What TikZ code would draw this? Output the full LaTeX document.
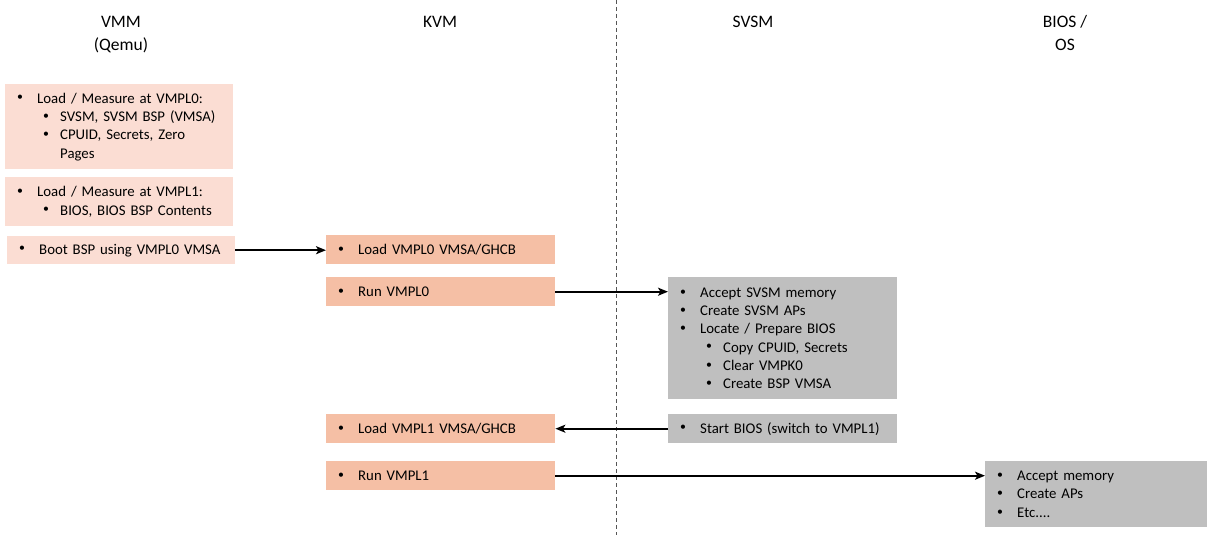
\documentclass[tikz,border=0pt]{standalone}
\usepackage{fontspec}
\setmainfont{Carlito}
\usetikzlibrary{arrows.meta}

\definecolor{vmmfill}{HTML}{FBDDD3}
\definecolor{kvmfill}{HTML}{F5BFA5}
\definecolor{grayfill}{HTML}{BFBFBF}
\definecolor{sepline}{HTML}{555555}

% bullet items: first and second level
\newcommand\bul{\raisebox{0.3ex}{\scalebox{0.8}{•}}}
\newcommand\itm[1]{\hspace*{12pt}\makebox[20pt][l]{\bul}#1}
\newcommand\subitm[1]{\hspace*{38pt}\makebox[17pt][l]{\bul}#1}
\newcommand\cont[1]{\hspace*{55pt}#1}

\tikzset{
  hdr/.style={anchor=base, inner sep=0pt, font=\fontsize{17.5}{21}\selectfont},
  stepbox/.style={rectangle, anchor=north west, inner xsep=0pt, inner ysep=0pt,
    align=left, font=\fontsize{14.8}{18.3}\selectfont},
  vmmbox/.style={stepbox, fill=vmmfill},
  kvmbox/.style={stepbox, fill=kvmfill},
  svsmbox/.style={stepbox, fill=grayfill},
  flow/.style={line width=1.8pt, -{Stealth[length=10pt,width=8pt,inset=2.5pt]}},
  divider/.style={draw=sepline, line width=0.9pt, dash pattern=on 4pt off 3pt}
}

\begin{document}
\begin{tikzpicture}[x=1pt, y=-1pt]
\useasboundingbox (0,0) rectangle (1207,535);

% column headers
\node[hdr] (hvmm)  at (121,28) {VMM};
\node[hdr] (hqemu) at (121,51) {(Qemu)};
\node[hdr] (hkvm)  at (440,28) {KVM};
\node[hdr] (hsvsm) at (753,28) {SVSM};
\node[hdr] (hbios) at (1065,28) {BIOS /};
\node[hdr] (hos)   at (1065,51) {OS};

% host / guest separator
\coordinate (sept) at (616,0);
\coordinate (sepb) at (616,535);
\draw[divider] (sept) -- (sepb);

% VMM column
\node[vmmbox, text width=228pt, minimum height=85pt] (m1) at (5,84)
  {\itm{Load / Measure at VMPL0:}\\
   \subitm{SVSM, SVSM BSP (VMSA)}\\
   \subitm{CPUID, Secrets, Zero}\\
   \cont{Pages}};
\node[vmmbox, text width=228pt, minimum height=49pt] (m2) at (5,177)
  {\itm{Load / Measure at VMPL1:}\\
   \subitm{BIOS, BIOS BSP Contents}};
\node[vmmbox, text width=228pt, minimum height=28pt] (m3) at (7,236)
  {\itm{Boot BSP using VMPL0 VMSA}};

% KVM column
\node[kvmbox, text width=229pt, minimum height=29pt] (k1) at (326,235)
  {\itm{Load VMPL0 VMSA/GHCB}};
\node[kvmbox, text width=229pt, minimum height=29pt] (k2) at (326,277)
  {\itm{Run VMPL0}};
\node[kvmbox, text width=229pt, minimum height=29pt] (k3) at (326,414)
  {\itm{Load VMPL1 VMSA/GHCB}};
\node[kvmbox, text width=229pt, minimum height=29pt] (k4) at (326,461)
  {\itm{Run VMPL1}};

% SVSM column
\node[svsmbox, text width=229pt, minimum height=122pt] (s1) at (668,277)
  {\itm{Accept SVSM memory}\\
   \itm{Create SVSM APs}\\
   \itm{Locate / Prepare BIOS}\\
   \subitm{Copy CPUID, Secrets}\\
   \subitm{Clear VMPK0}\\
   \subitm{Create BSP VMSA}};
\node[svsmbox, text width=229pt, minimum height=29pt] (s2) at (668,414)
  {\itm{Start BIOS (switch to VMPL1)}};

% BIOS / OS column
\node[svsmbox, text width=222pt, minimum height=66pt] (b1) at (985,461)
  {\itm{Accept memory}\\
   \itm{Create APs}\\
   \itm{Etc....}};

% control flow
\draw[flow] (m3.east) -- (m3.east -| k1.west);
\draw[flow] (k2.east) -- (k2.east -| s1.west);
\draw[flow] (s2.west) -- (s2.west -| k3.east);
\draw[flow] (k4.east) -- (k4.east -| b1.west);
\end{tikzpicture}
\end{document}
